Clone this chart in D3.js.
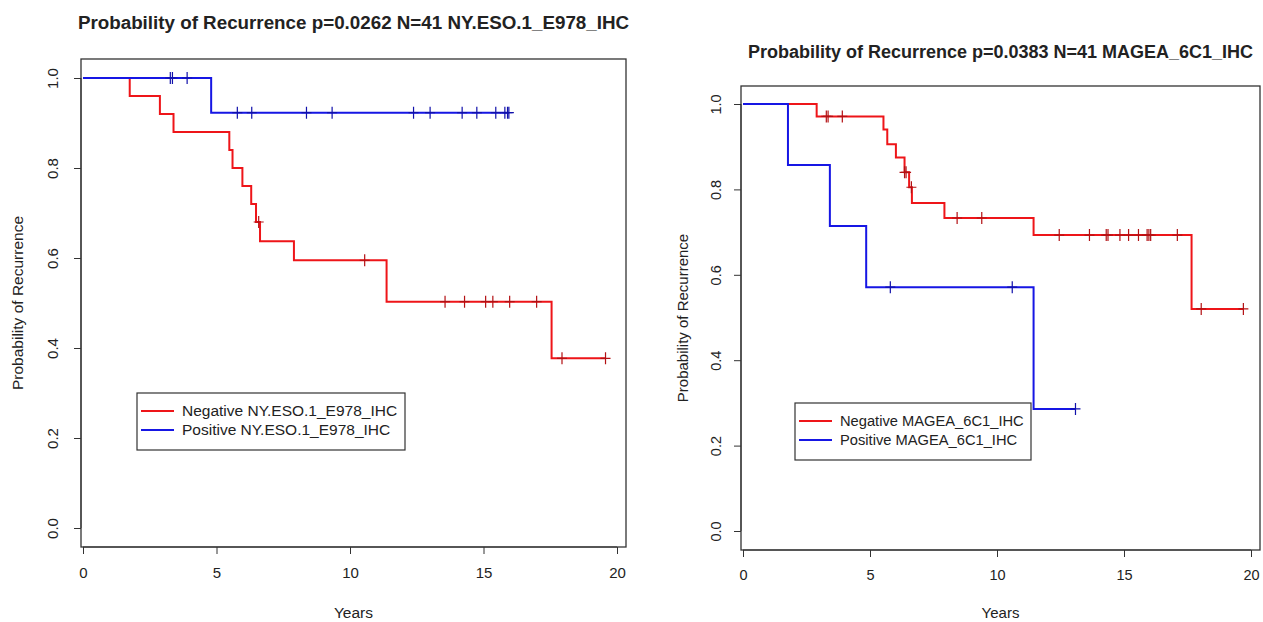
<!DOCTYPE html>
<html>
<head>
<meta charset="utf-8">
<script src="https://cdn.jsdelivr.net/npm/d3@7"></script>
<style>
  body { margin: 0; background: #fff; }
  #chart { width: 1263px; height: 622px; }
  text { font-family: "Liberation Sans", Arial, sans-serif; fill: #222; }
  .title { font-weight: bold; }
  .frame { fill: none; stroke: #333; stroke-width: 1.3; }
  .km-line { fill: none; stroke-width: 2; }
</style>
</head>
<body>
<div id="chart"></div>
<script>
// ---- left panel: NY.ESO.1_E978_IHC ----
const nyNegTimes = [1.75, 2.88, 3.39, 5.48, 5.6, 5.97, 6.3, 6.48, 6.63, 7.9, 11.37, 17.55];
const nyNegSurv = [0.96, 0.92, 0.88, 0.84, 0.80, 0.76, 0.72, 0.68, 0.6375, 0.595, 0.503, 0.377];
const nyNegCensor = [6.58, 10.55, 13.56, 14.29, 15.08, 15.35, 15.98, 16.99, 17.94, 19.57];
const nyPosTimes = [4.8];
const nyPosSurv = [0.923];
const nyPosCensor = [3.27, 3.35, 3.9, 5.78, 6.32, 8.37, 9.33, 12.38, 13.0, 14.2, 14.75, 15.46, 15.8, 15.9, 15.95];

// ---- right panel: MAGEA_6C1_IHC ----
const mgNegTimes = [2.9, 5.53, 5.68, 6.02, 6.36, 6.54, 6.65, 7.93, 11.44, 17.66];
const mgNegSurv = [0.971, 0.94, 0.906, 0.875, 0.84, 0.805, 0.768, 0.733, 0.693, 0.52];
const mgNegCensor = [3.28, 3.35, 3.91, 6.36, 6.42, 6.63, 8.43, 9.4, 12.45, 13.64, 14.3, 14.37, 14.84, 15.18, 15.57, 15.91, 15.98, 16.05, 17.1, 18.04, 19.7];
const mgPosTimes = [1.77, 3.42, 4.85, 11.44];
const mgPosSurv = [0.857, 0.714, 0.571, 0.286];
const mgPosCensor = [5.8, 10.6, 13.09];

const xTicks = [0, 5, 10, 15, 20];
const yTicks = [0, 0.2, 0.4, 0.6, 0.8, 1.0];
const red = '#ee1519';
const blue = '#1616e4';
const fontStack = '"Liberation Sans", Arial, sans-serif';

const svg = d3.select('#chart').append('svg')
    .attr('width', 1263)
    .attr('height', 622);

// survival value just after time t
function survAt(times, surv, t) {
    let s = 1;
    times.forEach((tt, i) => { if (tt <= t) s = surv[i]; });
    return s;
}

function drawPanel(p) {
    const x = d3.scaleLinear().domain([0, 20]).range([p.x0, p.x20]);
    const y = d3.scaleLinear().domain([0, 1]).range([p.y0, p.y1]);
    const g = svg.append('g');

    // title
    g.append('text')
        .attr('class', 'title')
        .attr('x', (p.left + p.right) / 2)
        .attr('y', p.titleY)
        .attr('text-anchor', 'middle')
        .attr('font-size', p.titleSize + 'px')
        .text(p.title);

    // x axis
    g.append('g')
        .attr('transform', `translate(0,${p.bottom})`)
        .call(d3.axisBottom(x).tickValues(xTicks).tickSize(7).tickPadding(13).tickFormat(d3.format('d')))
        .call(a => a.select('.domain').attr('d', `M${x(0)},0H${x(20)}`).attr('stroke', '#333'))
        .call(a => a.selectAll('line').attr('stroke', '#333'))
        .call(a => a.selectAll('text').attr('font-size', p.tickSize + 'px').attr('fill', '#222')
            .attr('font-family', fontStack));

    // y axis (labels parallel to axis like R)
    const ya = g.append('g')
        .attr('transform', `translate(${p.left},0)`)
        .call(d3.axisLeft(y).tickValues(yTicks).tickSize(7).tickFormat(d3.format('.1f')));
    ya.select('.domain').attr('d', `M0,${y(0)}V${y(1)}`).attr('stroke', '#333');
    ya.selectAll('line').attr('stroke', '#333');
    ya.selectAll('text')
        .attr('font-size', p.tickSize + 'px')
        .attr('fill', '#222')
        .attr('font-family', fontStack)
        .attr('x', null)
        .attr('text-anchor', 'middle')
        .attr('transform', `translate(${p.yLabX - p.left},0) rotate(-90)`)
        .attr('dy', '0.35em');

    // frame
    g.append('rect')
        .attr('class', 'frame')
        .attr('x', p.left).attr('y', p.top)
        .attr('width', p.right - p.left).attr('height', p.bottom - p.top);

    // axis titles
    g.append('text')
        .attr('x', (p.left + p.right) / 2)
        .attr('y', p.xTitleY)
        .attr('text-anchor', 'middle')
        .attr('font-size', p.labSize + 'px')
        .text('Years');
    g.append('text')
        .attr('transform', `translate(${p.yTitleX},${(p.top + p.bottom) / 2}) rotate(-90)`)
        .attr('text-anchor', 'middle')
        .attr('font-size', p.labSize + 'px')
        .text('Probability of Recurrence');

    const line = d3.line()
        .x(d => x(d[0]))
        .y(d => y(d[1]))
        .curve(d3.curveStepAfter);

    p.series.forEach(s => {
        const end = d3.max(s.censor.concat(s.times));
        const pts = [[0, 1]].concat(s.times.map((t, i) => [t, s.surv[i]]));
        pts.push([end, s.surv[s.surv.length - 1]]);
        g.append('path')
            .datum(pts)
            .attr('class', 'km-line')
            .attr('stroke', s.color)
            .attr('d', line);

        // censor marks (R pch = 3)
        const marks = g.append('g').attr('stroke', d3.color(s.color).darker(0.8)).attr('stroke-width', 1.2);
        s.censor.forEach(t => {
            const cx = x(t), cy = y(survAt(s.times, s.surv, t));
            marks.append('path').attr('d', `M${cx - 5},${cy}H${cx + 5}M${cx},${cy - 6}V${cy + 6}`);
        });
    });

    // legend
    const lg = g.append('g');
    lg.append('rect')
        .attr('x', p.legX).attr('y', p.legY)
        .attr('width', p.legW).attr('height', 57)
        .attr('fill', '#fff').attr('stroke', '#333').attr('stroke-width', 1.2);
    p.series.forEach((s, i) => {
        const ly = p.legY + 18 + i * 19;
        lg.append('line')
            .attr('x1', p.legX + 4).attr('x2', p.legX + 37)
            .attr('y1', ly).attr('y2', ly)
            .attr('stroke', s.color).attr('stroke-width', 2);
        lg.append('text')
            .attr('x', p.legX + 45).attr('y', ly)
            .attr('dy', '0.35em')
            .attr('font-size', p.legSize + 'px')
            .text(s.label);
    });
}

drawPanel({
    title: 'Probability of Recurrence p=0.0262 N=41 NY.ESO.1_E978_IHC',
    left: 81, right: 626, top: 59, bottom: 547,
    x0: 83, x20: 617, y0: 528, y1: 78,
    titleY: 29, xTitleY: 618, yTitleX: 23, yLabX: 53,
    titleSize: 18.8, tickSize: 15, labSize: 15.5, legSize: 15.5,
    legX: 137, legY: 393, legW: 268,
    series: [
        { times: nyNegTimes, surv: nyNegSurv, censor: nyNegCensor, color: red, label: 'Negative NY.ESO.1_E978_IHC' },
        { times: nyPosTimes, surv: nyPosSurv, censor: nyPosCensor, color: blue, label: 'Positive NY.ESO.1_E978_IHC' }
    ]
});

drawPanel({
    title: 'Probability of Recurrence p=0.0383 N=41 MAGEA_6C1_IHC',
    left: 741, right: 1260, top: 86, bottom: 550,
    x0: 743, x20: 1251, y0: 531, y1: 104,
    titleY: 58, xTitleY: 618, yTitleX: 688, yLabX: 716,
    titleSize: 18, tickSize: 14.5, labSize: 15, legSize: 14.7,
    legX: 795, legY: 403, legW: 236,
    series: [
        { times: mgNegTimes, surv: mgNegSurv, censor: mgNegCensor, color: red, label: 'Negative MAGEA_6C1_IHC' },
        { times: mgPosTimes, surv: mgPosSurv, censor: mgPosCensor, color: blue, label: 'Positive MAGEA_6C1_IHC' }
    ]
});
</script>
</body>
</html>
